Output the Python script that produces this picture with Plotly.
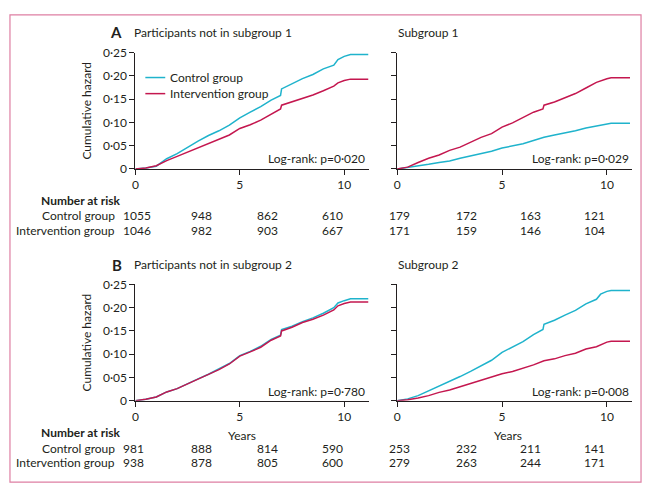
import plotly.graph_objects as go

W, H = 648, 496
FONT = "Lato"
TXT = "#231f20"
CYAN = "#1fb3cc"
RED = "#c4174f"
BORDER = "#de7fa3"

def px(x):
    return x / W

def py(y):
    return 1 - y / H

# ---------------- data ----------------
# Panel A left: participants not in subgroup 1
t_a1_ctrl = [0, 0.5, 1, 1.5, 2, 2.5, 3, 3.5, 4, 4.5, 5, 5.5, 6, 6.5, 6.95, 7.0, 7.5, 8, 8.5, 9, 9.5, 9.7, 10, 10.3, 11.15]
v_a1_ctrl = [0, 0.002, 0.006, 0.022, 0.033, 0.047, 0.060, 0.072, 0.082, 0.094, 0.110, 0.122, 0.134, 0.148, 0.158, 0.172, 0.183, 0.194, 0.203, 0.215, 0.223, 0.235, 0.242, 0.246, 0.246]
t_a1_int = [0, 0.5, 1, 1.5, 2, 2.5, 3, 3.5, 4, 4.5, 5, 5.5, 6, 6.5, 6.95, 7.0, 7.5, 8, 8.5, 9, 9.5, 9.7, 10, 10.3, 11.15]
v_a1_int = [0, 0.002, 0.007, 0.018, 0.027, 0.036, 0.045, 0.055, 0.064, 0.073, 0.087, 0.095, 0.105, 0.118, 0.129, 0.137, 0.144, 0.151, 0.159, 0.168, 0.178, 0.185, 0.190, 0.193, 0.193]

# Panel A right: subgroup 1
t_a2_ctrl = [0, 0.5, 1, 1.5, 2, 2.5, 3, 3.5, 4, 4.5, 5, 5.5, 6, 6.5, 7, 7.5, 8, 8.5, 9, 9.5, 10, 10.2, 11.1]
v_a2_ctrl = [0, 0.003, 0.007, 0.010, 0.014, 0.017, 0.023, 0.028, 0.033, 0.038, 0.045, 0.049, 0.054, 0.061, 0.068, 0.073, 0.077, 0.082, 0.088, 0.092, 0.097, 0.098, 0.098]
t_a2_int = [0, 0.5, 1, 1.5, 2, 2.5, 3, 3.5, 4, 4.5, 5, 5.5, 6, 6.5, 6.95, 7.0, 7.5, 8, 8.5, 9, 9.5, 10, 10.2, 11.1]
v_a2_int = [0, 0.004, 0.014, 0.023, 0.030, 0.040, 0.047, 0.058, 0.068, 0.076, 0.090, 0.099, 0.110, 0.122, 0.129, 0.137, 0.144, 0.153, 0.162, 0.174, 0.186, 0.194, 0.196, 0.196]

# Panel B left: participants not in subgroup 2
t_b1_ctrl = [0, 0.5, 1, 1.5, 2, 2.5, 3, 3.5, 4, 4.5, 5, 5.5, 6, 6.5, 6.95, 7.0, 7.5, 8, 8.5, 9, 9.5, 9.7, 10, 10.3, 11.15]
v_b1_ctrl = [0, 0.003, 0.008, 0.019, 0.026, 0.037, 0.047, 0.057, 0.068, 0.080, 0.097, 0.106, 0.117, 0.132, 0.141, 0.153, 0.160, 0.170, 0.178, 0.188, 0.200, 0.210, 0.215, 0.219, 0.219]
t_b1_int = [0, 0.5, 1, 1.5, 2, 2.5, 3, 3.5, 4, 4.5, 5, 5.5, 6, 6.5, 6.95, 7.0, 7.5, 8, 8.5, 9, 9.5, 9.7, 10, 10.3, 11.15]
v_b1_int = [0, 0.003, 0.008, 0.019, 0.026, 0.036, 0.046, 0.056, 0.067, 0.079, 0.096, 0.105, 0.115, 0.130, 0.139, 0.150, 0.158, 0.168, 0.175, 0.184, 0.195, 0.204, 0.209, 0.212, 0.212]

# Panel B right: subgroup 2
t_b2_ctrl = [0, 0.5, 1, 1.5, 2, 2.5, 3, 3.5, 4, 4.5, 5, 5.5, 6, 6.5, 6.95, 7.0, 7.5, 8, 8.5, 9, 9.5, 9.7, 10, 10.2, 11.1]
v_b2_ctrl = [0, 0.004, 0.011, 0.021, 0.032, 0.042, 0.052, 0.063, 0.075, 0.087, 0.104, 0.116, 0.127, 0.142, 0.153, 0.164, 0.173, 0.184, 0.194, 0.208, 0.218, 0.229, 0.235, 0.237, 0.237]
t_b2_int = [0, 0.5, 1, 1.5, 2, 2.5, 3, 3.5, 4, 4.5, 5, 5.5, 6, 6.5, 7, 7.5, 8, 8.5, 9, 9.5, 10, 10.2, 11.1]
v_b2_int = [0, 0.002, 0.006, 0.011, 0.018, 0.023, 0.030, 0.037, 0.043, 0.050, 0.058, 0.063, 0.070, 0.077, 0.086, 0.090, 0.097, 0.102, 0.111, 0.116, 0.126, 0.128, 0.128]

y_tickvals = [0, 0.05, 0.10, 0.15, 0.20, 0.25]
y_ticktext = ["0", "0·05", "0·10", "0·15", "0·20", "0·25"]
x_tickvals = [0, 5, 10]

titles_left = ["Participants not in subgroup 1", "Participants not in subgroup 2"]
titles_right = ["Subgroup 1", "Subgroup 2"]
panel_letters = ["A", "B"]
logrank = ["Log-rank: p=0·020", "Log-rank: p=0·029", "Log-rank: p=0·780", "Log-rank: p=0·008"]

risk_labels = ["Control group", "Intervention group"]
risk_a_ctrl = [1055, 948, 862, 610, 179, 172, 163, 121]
risk_a_int = [1046, 982, 903, 667, 171, 159, 146, 104]
risk_b_ctrl = [981, 888, 814, 590, 253, 232, 211, 141]
risk_b_int = [938, 878, 805, 600, 279, 263, 244, 171]

# ---------------- figure ----------------
fig = go.Figure()

panels = [
    ("x", "y", t_a1_ctrl, v_a1_ctrl, t_a1_int, v_a1_int),
    ("x2", "y2", t_a2_ctrl, v_a2_ctrl, t_a2_int, v_a2_int),
    ("x3", "y3", t_b1_ctrl, v_b1_ctrl, t_b1_int, v_b1_int),
    ("x4", "y4", t_b2_ctrl, v_b2_ctrl, t_b2_int, v_b2_int),
]
for i, (xa, ya, tc, vc, ti, vi) in enumerate(panels):
    fig.add_trace(go.Scatter(x=tc, y=vc, mode="lines", name="Control group",
                             line=dict(color=CYAN, width=1.5), xaxis=xa, yaxis=ya,
                             showlegend=False))
    fig.add_trace(go.Scatter(x=ti, y=vi, mode="lines", name="Intervention group",
                             line=dict(color=RED, width=1.5), xaxis=xa, yaxis=ya,
                             showlegend=False))

# axis pixel geometry
XL = (133, 368)
XR = (396, 632)
YT = (46, 166)
YB = (285, 405)

def xax(dom):
    return dict(domain=[px(dom[0]), px(dom[1])], range=[0, 11.2], tickvals=x_tickvals,
                ticks="outside", ticklen=5, tickwidth=1, tickcolor=TXT,
                showline=True, linecolor=TXT, linewidth=1, showgrid=False,
                zeroline=False, tickfont=dict(family=FONT, size=12, color=TXT),
                fixedrange=True)

def yax(dom, labels=True, title=None):
    d = dict(domain=[py(dom[1]), py(dom[0])], range=[0, 0.25], tickvals=y_tickvals,
             ticktext=y_ticktext, showticklabels=labels,
             ticks="outside", ticklen=5, tickwidth=1, tickcolor=TXT,
             showline=True, linecolor=TXT, linewidth=1, showgrid=False,
             zeroline=False, tickfont=dict(family=FONT, size=12, color=TXT),
             fixedrange=True)
    if title:
        d["title"] = dict(text=title, font=dict(family=FONT, size=12, color=TXT), standoff=8)
    return d

fig.update_layout(
    width=W, height=H, margin=dict(l=0, r=0, t=0, b=0),
    paper_bgcolor="white", plot_bgcolor="white",
    font=dict(family=FONT, size=12, color=TXT),
    xaxis=dict(xax(XL), anchor="y"),
    yaxis=dict(yax(YT, True, "Cumulative hazard"), anchor="x"),
    xaxis2=dict(xax(XR), anchor="y2"),
    yaxis2=dict(yax(YT, False), anchor="x2"),
    xaxis3=dict(xax(XL), anchor="y3"),
    yaxis3=dict(yax(YB, True, "Cumulative hazard"), anchor="x3"),
    xaxis4=dict(xax(XR), anchor="y4"),
    yaxis4=dict(yax(YB, False), anchor="x4"),
    showlegend=False,
)

ann = []
shapes = []

def text(x, y, s, xanchor="left", size=12, bold=False):
    ann.append(dict(x=px(x), y=py(y), xref="paper", yref="paper", text=("<b>%s</b>" % s) if bold else s,
                    showarrow=False, xanchor=xanchor, yanchor="middle",
                    font=dict(family=FONT, size=size, color=TXT)))

# panel titles
for k, ytitle in enumerate([25, 265]):
    text(122, ytitle, panel_letters[k], xanchor="right", size=15, bold=True)
    text(130, ytitle, titles_left[k])
    text(395, ytitle, titles_right[k])

# log-rank labels
for k, (xr, yc) in enumerate([(366, 155), (631, 155), (366, 395), (631, 395)]):
    text(xr, yc, logrank[k], xanchor="right")

# legend (inside top-left panel)
for yy, col, lab in [(71.7, CYAN, risk_labels[0]), (88.3, RED, risk_labels[1])]:
    shapes.append(dict(type="line", xref="paper", yref="paper", x0=px(143), x1=px(163),
                       y0=py(yy), y1=py(yy), line=dict(color=col, width=1.5)))
    text(166, yy, lab)

# x-axis titles on bottom panels
text(240, 441, "Years", xanchor="center")
text(507, 441, "Years", xanchor="center")

# number at risk tables
col_x = [119, 187, 253, 318, 386, 453, 517, 582]
for (y0, rc, ri) in [(198, risk_a_ctrl, risk_a_int), (438, risk_b_ctrl, risk_b_int)]:
    text(36, y0, "Number at risk", bold=True)
    text(115, y0 + 16, risk_labels[0], xanchor="right")
    text(115, y0 + 31, risk_labels[1], xanchor="right")
    for j, cx in enumerate(col_x):
        text(cx, y0 + 16, str(rc[j]))
        text(cx, y0 + 31, str(ri[j]))

# pink frame
shapes.append(dict(type="rect", xref="paper", yref="paper", x0=px(7), x1=px(641),
                   y0=py(489), y1=py(7), line=dict(color=BORDER, width=1.2)))

fig.update_layout(annotations=ann, shapes=shapes)
fig.write_html("out.html", config={"displayModeBar": False},
               post_script="document.body.style.margin='0';document.body.style.overflow='hidden';")
